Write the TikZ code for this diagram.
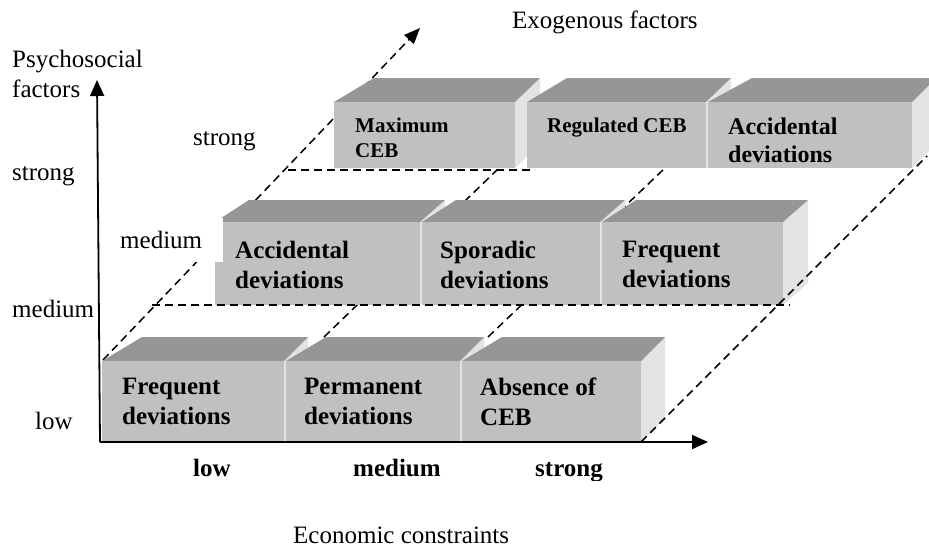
\documentclass[tikz,border=0pt]{standalone}
\usepackage{fontspec}
\setmainfont{Liberation Serif}
\usetikzlibrary{arrows.meta}

\definecolor{frontgray}{RGB}{192,192,192}
\definecolor{topgray}{RGB}{150,150,150}
\definecolor{sidegray}{RGB}{227,227,227}

\tikzset{axis/.style = {line width=1.8pt, -{Triangle[length=16pt,width=14pt]}},
         guide/.style = {line width=1.5pt, dash pattern=on 8pt off 5pt},
         boxtext/.style = {inner sep=0pt, align=left, anchor=north west,
                           font=\fontsize{25}{30}\selectfont\bfseries},
         levellabel/.style = {inner sep=0pt, anchor=base west,
                              font=\fontsize{25}{30}\selectfont}}

% x0, x1, top, bottom, depth, left slant, right slant
\newcommand{\cebbox}[7]{%
  \fill[sidegray] (#2,#3) -- ({#2+#7},{#3-#5}) -- ({#2+#7},{#4-#5}) -- (#2,#4) -- cycle;
  \fill[topgray] (#1,#3) -- ({#1+#6},{#3-#5}) -- ({#2+#7},{#3-#5}) -- (#2,#3) -- cycle;
  \fill[frontgray] (#1,#3) rectangle (#2,#4);}

\begin{document}
\begin{tikzpicture}[x=1pt, y=-1pt]
\clip (0,0) rectangle (929,552);
\fill[white] (0,0) rectangle (929,552);

\coordinate (origin) at (100,442);
\coordinate (ytip) at (97,80);
\coordinate (xtip) at (708,442);
\coordinate (zfoot) at (103,360);
\coordinate (ztip) at (420,28);

% receding guides behind the boxes
\draw[guide, -{Triangle[length=16pt,width=13pt]}] (zfoot) -- (ztip);
\draw[guide] (324,337) -- (497,170);
\draw[guide] (488,337) -- (665,168);

% strong row
\cebbox{334}{515}{102}{168}{24}{40}{25}
\cebbox{527}{706}{102}{168}{24}{40}{25}
\cebbox{708}{912}{102}{168}{24}{44}{24}
% medium row
\cebbox{215}{420}{222}{305}{22}{34}{25}
\cebbox{422}{600}{222}{305}{22}{34}{25}
\cebbox{602}{783}{222}{305}{22}{34}{25}
% low row
\cebbox{102}{284}{361}{442}{24}{40}{24}
\cebbox{286}{460}{361}{442}{24}{40}{24}
\cebbox{462}{641}{361}{442}{24}{40}{24}

\draw[guide] (641,442) -- (927,156);
\draw[guide] (152,305) -- (790,305);
\draw[guide] (288,170) -- (535,170);

\draw[axis] (origin) -- (ytip);
\draw[axis] (origin) -- (xtip);

% box texts
\node[boxtext] (freqlow) at (122,378) {Frequent\\deviations};
\node[boxtext] (permanent) at (304,378) {Permanent\\deviations};
\node[boxtext] (absence) at (480,378) {Absence of\\CEB};
\node[boxtext] (accmid) at (235,241) {Accidental\\deviations};
\node[boxtext] (sporadic) at (440,241) {Sporadic\\deviations};
\node[boxtext] (freqmid) at (622,241) {Frequent\\deviations};
\node[boxtext, font=\fontsize{21}{25}\selectfont\bfseries] (maximum) at (355,118) {Maximum\\CEB};
\node[boxtext, font=\fontsize{21}{25}\selectfont\bfseries] (regulated) at (547,118) {Regulated CEB};
\begin{scope}
\clip (708,102) rectangle (912,162);
\node[boxtext, font=\fontsize{24}{28}\selectfont\bfseries] (acctop) at (728,118) {Accidental\\deviations};
\end{scope}

% axis labels
\node[boxtext, font=\fontsize{25}{30}\selectfont] (ylabel) at (12,50) {Psychosocial\\factors};
\node[levellabel] (zlabel) at (512,28) {Exogenous factors};
\node[levellabel] (xlabel) at (293,543) {Economic constraints};
\node[levellabel] (ystrong) at (12,180) {strong};
\node[levellabel] (ymedium) at (12,317) {medium};
\node[levellabel] (ylow) at (35,429) {low};
\node[levellabel] (zstrong) at (193,145) {strong};
\node[levellabel, fill=white, text width=103pt, text height=30pt, text depth=14pt]
  (zmedium) at (120,248) {medium};
\node[levellabel, font=\fontsize{25}{30}\selectfont\bfseries] (xlow) at (193,476) {low};
\node[levellabel, font=\fontsize{25}{30}\selectfont\bfseries] (xmedium) at (353,476) {medium};
\begin{scope}
\clip (500,450) rectangle (640,480);
\node[levellabel, font=\fontsize{25}{30}\selectfont\bfseries] (xstrong) at (535,476) {strong};
\end{scope}
\end{tikzpicture}
\end{document}
